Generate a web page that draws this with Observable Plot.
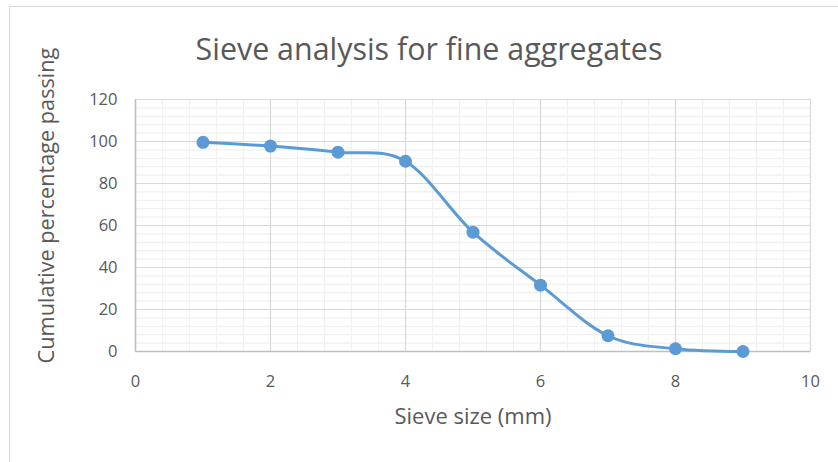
<!DOCTYPE html>
<html>
<head>
<meta charset="utf-8">
<script src="https://cdn.jsdelivr.net/npm/d3@7"></script>
<script src="https://cdn.jsdelivr.net/npm/@observablehq/plot@0.6"></script>
<style>
  html, body { margin: 0; padding: 0; background: #fff; }
  #wrap { position: relative; width: 838px; height: 462px; overflow: hidden; }
  #border { position: absolute; left: 9px; top: 6px; width: 840px; height: 470px; border: 1px solid #d9d9d9; pointer-events: none; }
</style>
</head>
<body>
<div id="wrap"><div id="border"></div></div>
<script>
const titleText = "Sieve analysis for fine aggregates";
const xLabelText = "Sieve size (mm)";
const yLabelText = "Cumulative percentage passing";

const sieveSizes = [1, 2, 3, 4, 5, 6, 7, 8, 9];
const passing = [99.6, 97.8, 94.9, 90.6, 56.8, 31.6, 7.5, 1.3, 0];

const xMajorTicks = [0, 2, 4, 6, 8, 10];
const yMajorTicks = [0, 20, 40, 60, 80, 100, 120];
const xMinorTicks = d3.range(0, 10.001, 0.4);
const yMinorTicks = d3.range(0, 120.001, 4);

const data = sieveSizes.map((s, i) => ({size: s, pct: passing[i]}));

const FONT = "Open Sans";
function fit(text, targetWidth) {
  const c = document.createElement("canvas").getContext("2d");
  c.font = `100px "${FONT}"`;
  return 100 * targetWidth / c.measureText(text).width;
}

const titleSize = fit(titleText, 467);
const yLabelSize = fit(yLabelText, 316);
const xLabelSize = fit(xLabelText, 157);
const tickFont = 16.5;

const chart = Plot.plot({
  width: 838,
  height: 462,
  marginLeft: 135,
  marginRight: 28,
  marginTop: 99,
  marginBottom: 111,
  style: {fontFamily: FONT, color: "#595959", background: "transparent", overflow: "visible"},
  x: {domain: [0, 10]},
  y: {domain: [0, 120]},
  marks: [
    Plot.ruleX(xMinorTicks, {stroke: "#f0f0f0", strokeWidth: 1.2}),
    Plot.ruleY(yMinorTicks, {stroke: "#f0f0f0", strokeWidth: 1.2}),
    Plot.ruleX(xMajorTicks, {stroke: "#d9d9d9", strokeWidth: 1.2}),
    Plot.ruleY(yMajorTicks, {stroke: "#d9d9d9", strokeWidth: 1.2}),
    Plot.frame({stroke: "#d9d9d9"}),
    Plot.ruleY([0], {stroke: "#bfbfbf", strokeWidth: 1.5}),
    Plot.ruleX([0], {stroke: "#bfbfbf", strokeWidth: 1.5}),
    Plot.axisX({ticks: xMajorTicks, tickSize: 0, tickPadding: 24, fontSize: tickFont, label: null, fill: "#595959"}),
    Plot.axisY({ticks: yMajorTicks, tickSize: 0, tickPadding: 18, fontSize: tickFont, label: null, fill: "#595959"}),
    Plot.line(data, {x: "size", y: "pct", curve: "cardinal", stroke: "#5B9BD5", strokeWidth: 3}),
    Plot.dot(data, {x: "size", y: "pct", r: 6.5, fill: "#5B9BD5", stroke: "none"}),
    Plot.text([titleText], {frameAnchor: "top", dx: -44, dy: -49, lineAnchor: "middle", fontSize: titleSize, fill: "#595959"}),
    Plot.text([xLabelText], {frameAnchor: "bottom", dx: 0, dy: 65, lineAnchor: "middle", fontSize: xLabelSize, fill: "#595959"}),
    Plot.text([yLabelText], {frameAnchor: "left", dx: -88, dy: -20, rotate: -90, textAnchor: "middle", lineAnchor: "middle", fontSize: yLabelSize, fill: "#595959"})
  ]
});
const wrap = document.getElementById("wrap");
chart.style.position = "absolute";
chart.style.left = "0";
chart.style.top = "0";
wrap.insertBefore(chart, wrap.firstChild);
</script>
</body>
</html>
